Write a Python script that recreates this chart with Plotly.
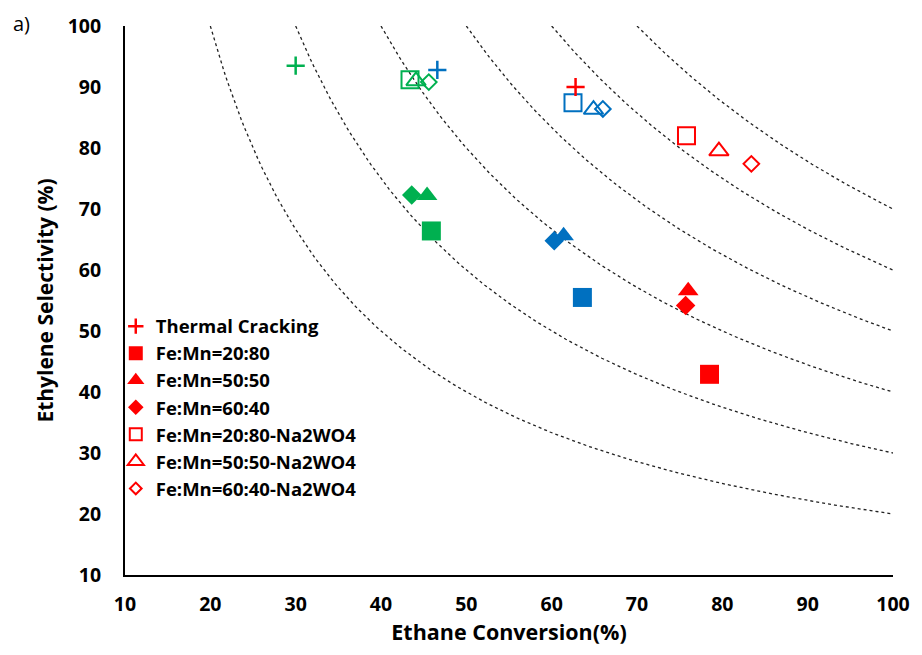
import numpy as np
import plotly.graph_objects as go

# Catalyst / marker labels (legend order)
labels = [
    "Thermal Cracking",
    "Fe:Mn=20:80",
    "Fe:Mn=50:50",
    "Fe:Mn=60:40",
    "Fe:Mn=20:80-Na2WO4",
    "Fe:Mn=50:50-Na2WO4",
    "Fe:Mn=60:40-Na2WO4",
]
symbols = ["cross-thin", "square", "triangle-up", "diamond",
           "square-open", "triangle-up-open", "diamond-open"]

# Ethane conversion (%) and ethylene selectivity (%) per condition
green_conv = [30.0, 45.9, 45.4, 43.6, 43.4, 44.1, 45.6]
green_sel = [93.5, 66.4, 72.2, 72.3, 91.2, 91.0, 90.8]
blue_conv = [46.6, 63.6, 61.4, 60.3, 62.5, 64.9, 66.0]
blue_sel = [92.8, 55.5, 65.6, 64.8, 87.4, 86.3, 86.4]
red_conv = [62.8, 78.5, 76.0, 75.7, 75.8, 79.6, 83.4]
red_sel = [90.0, 42.9, 56.6, 54.2, 82.0, 79.5, 77.4]

# Iso-yield guide curves (yield = conversion * selectivity / 100)
yield_levels = [20, 30, 40, 50, 60, 70]

GREEN = "#00B050"
BLUE = "#0070C0"
RED = "#FF0000"

plot_size = [13, 19, 18, 15, 17, 17, 12]
legend_size = [11, 14, 15, 12, 12, 14, 9]
line_w = [2.5, 0, 0, 0, 2, 2, 2]

fig = go.Figure()

for Y in yield_levels:
    xs = np.linspace(Y, 100, 200)
    fig.add_trace(go.Scatter(
        x=xs, y=Y * 100.0 / xs, mode="lines",
        line=dict(color="#222222", width=1.3, dash="dot"),
        showlegend=False, hoverinfo="skip",
    ))

for color, conv, sel in [(GREEN, green_conv, green_sel),
                         (BLUE, blue_conv, blue_sel),
                         (RED, red_conv, red_sel)]:
    for i, lab in enumerate(labels):
        fig.add_trace(go.Scatter(
            x=[conv[i]], y=[sel[i]], mode="markers", name=lab,
            marker=dict(symbol=symbols[i], size=plot_size[i], color=color,
                        line=dict(color=color, width=line_w[i])),
            showlegend=False,
        ))

for i, lab in enumerate(labels):
    fig.add_trace(go.Scatter(
        x=[None], y=[None], mode="markers", name=lab,
        marker=dict(symbol=symbols[i], size=legend_size[i], color=RED,
                    line=dict(color=RED, width=line_w[i])),
    ))

font_family = "Open Sans"

fig.update_layout(
    width=922, height=655,
    margin=dict(l=125, r=22, t=25, b=80),
    paper_bgcolor="white", plot_bgcolor="white",
    font=dict(family=font_family, color="black"),
    legend=dict(
        x=-0.012, y=0.487, xanchor="left", yanchor="top",
        bgcolor="rgba(0,0,0,0)", borderwidth=0,
        font=dict(family=font_family, size=18.5, weight="bold", color="black"),
        itemwidth=30, tracegroupgap=0,
    ),
    xaxis=dict(
        range=[10, 100], tickvals=list(range(10, 101, 10)),
        showgrid=False, zeroline=False,
        showline=True, linecolor="black", linewidth=2,
        ticks="outside", ticklen=11, tickcolor="rgba(0,0,0,0)",
        tickfont=dict(family=font_family, size=19.5, weight="bold"),
        title=dict(text="Ethane Conversion(%)", standoff=8,
                   font=dict(family=font_family, size=21.5, weight="bold")),
    ),
    yaxis=dict(
        range=[10, 100], tickvals=list(range(10, 101, 10)),
        showgrid=False, zeroline=False,
        showline=True, linecolor="black", linewidth=2,
        ticks="outside", ticklen=18, tickcolor="rgba(0,0,0,0)",
        tickfont=dict(family=font_family, size=19.5, weight="bold"),
        title=dict(text="Ethylene Selectivity (%)", standoff=8,
                   font=dict(family=font_family, size=21, weight="bold")),
    ),
    annotations=[dict(
        text="a)", xref="paper", yref="paper",
        x=-0.148, y=1.005, xanchor="left", yanchor="middle",
        showarrow=False, font=dict(family=font_family, size=20, color="black"),
    )],
)

fig.write_html("out.html")
